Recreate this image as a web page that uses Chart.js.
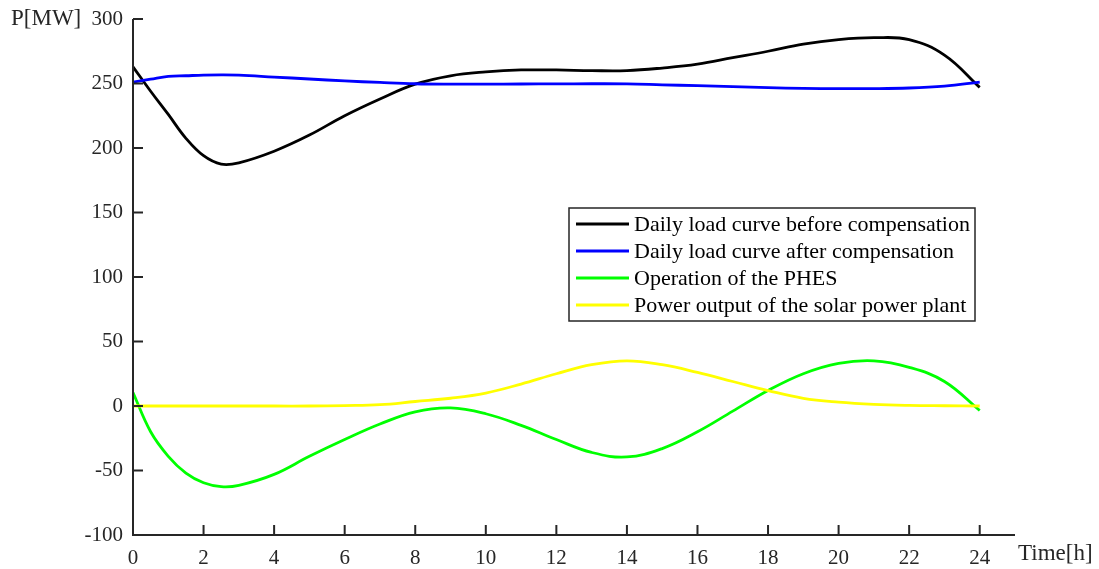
<!DOCTYPE html>
<html>
<head>
<meta charset="utf-8">
<script src="https://cdn.jsdelivr.net/npm/chart.js@4/dist/chart.umd.min.js"></script>
<style>
  html, body { margin: 0; padding: 0; background: #fff; }
  #wrap { width: 1099px; height: 569px; }
</style>
</head>
<body>
<div id="wrap"><canvas id="myChart" width="1099" height="569"></canvas></div>
<script>
// hours of the day
const hours = [0, 0.5, 1, 1.5, 2, 2.5, 3, 4, 5, 6, 7, 8, 9, 10, 11, 12, 13, 14, 15, 16, 17, 18, 19, 20, 21, 22, 23, 24];

// P[MW]
const loadBefore = [263, 244, 226, 207.5, 194, 187.5, 188.5, 197.5, 210, 225, 238, 249.5, 256, 259, 260.5, 260.5, 260, 260, 262, 265, 270, 275, 280.5, 284, 285.5, 284, 272, 247];
const loadAfter  = [251, 253.3, 255.5, 256, 256.5, 256.7, 256.5, 255, 253.5, 252, 250.8, 249.8, 249.5, 249.5, 249.6, 249.7, 249.8, 249.7, 249, 248.3, 247.5, 246.8, 246.2, 246, 246, 246.5, 248, 251];
const phes       = [10.5, -20, -39, -52, -59.5, -62.5, -61.5, -53, -39, -26, -14, -4.5, -1.5, -6, -15, -26, -36, -39.5, -33, -20, -4, 12, 25, 33, 35, 30, 19, -3.5];
const solar      = [0, 0, 0, 0, 0, 0, 0, 0, 0, 0.3, 1, 3.5, 6, 10, 17, 25, 32, 35, 32, 26, 19, 12, 6, 3, 1.3, 0.5, 0.2, 0];

const seriesNames  = ['Daily load curve before compensation', 'Daily load curve after compensation', 'Operation of the PHES', 'Power output of the solar power plant'];
const seriesColors = ['#000000', '#0000ff', '#00ff00', '#ffff00'];

const yTicks = [-100, -50, 0, 50, 100, 150, 200, 250, 300];
const xTicks = [0, 2, 4, 6, 8, 10, 12, 14, 16, 18, 20, 22, 24];

const axisColor = '#262626';
const serif = '"Liberation Serif", "Times New Roman", serif';

function pts(vals) {
  return hours.map((h, i) => ({ x: h, y: vals[i] }));
}

const allSeries = [loadBefore, loadAfter, phes, solar];
const datasets = allSeries.map((vals, i) => ({
  label: seriesNames[i],
  data: pts(vals),
  borderColor: seriesColors[i],
  backgroundColor: seriesColors[i],
  borderWidth: 2.8,
  pointRadius: 0,
  tension: 0.4,
  fill: false,
  order: 4 - i
}));

// axes with inward ticks, axis titles and a boxed legend inside the plot
const decor = {
  id: 'decor',
  afterDraw(chart) {
    const ctx = chart.ctx;
    const x = chart.scales.x, y = chart.scales.y;
    const a = chart.chartArea;
    ctx.save();
    ctx.strokeStyle = axisColor;
    ctx.lineWidth = 2;
    ctx.beginPath();
    ctx.moveTo(a.left, a.top);
    ctx.lineTo(a.left, a.bottom);
    ctx.lineTo(a.right, a.bottom);
    yTicks.forEach(v => {
      const p = y.getPixelForValue(v);
      ctx.moveTo(a.left, p);
      ctx.lineTo(a.left + 10, p);
    });
    xTicks.forEach(v => {
      const p = x.getPixelForValue(v);
      ctx.moveTo(p, a.bottom);
      ctx.lineTo(p, a.bottom - 10);
    });
    ctx.stroke();

    ctx.fillStyle = axisColor;
    ctx.font = '23px ' + serif;
    ctx.textBaseline = 'middle';
    ctx.textAlign = 'left';
    ctx.fillText('P[MW]', 11, 19);
    ctx.fillText('Time[h]', 1018, 554);

    // legend
    const lx = 569, ly = 208, lw = 406, lh = 113;
    ctx.fillStyle = '#ffffff';
    ctx.fillRect(lx, ly, lw, lh);
    ctx.lineWidth = 1.5;
    ctx.strokeStyle = axisColor;
    ctx.strokeRect(lx, ly, lw, lh);
    ctx.font = '22px ' + serif;
    chart.data.datasets.forEach((ds, i) => {
      const ry = ly + 16 + i * 27;
      ctx.strokeStyle = ds.borderColor;
      ctx.lineWidth = 2.8;
      ctx.beginPath();
      ctx.moveTo(lx + 7, ry);
      ctx.lineTo(lx + 60, ry);
      ctx.stroke();
      ctx.fillStyle = '#000000';
      ctx.fillText(ds.label, lx + 65, ry + 1);
    });
    ctx.restore();
  }
};

new Chart(document.getElementById('myChart').getContext('2d'), {
  type: 'line',
  data: { datasets: datasets },
  options: {
    responsive: false,
    animation: false,
    layout: { padding: { top: 19, right: 84, left: 0, bottom: 0 } },
    plugins: { legend: { display: false }, tooltip: { enabled: false } },
    scales: {
      x: {
        type: 'linear',
        min: 0,
        max: 25,
        grid: { display: false },
        border: { display: false },
        afterBuildTicks: s => { s.ticks = xTicks.map(v => ({ value: v })); },
        afterFit: s => { s.height = 34; },
        ticks: { color: axisColor, font: { family: serif, size: 21 }, padding: 3, maxRotation: 0, autoSkip: false }
      },
      y: {
        min: -100,
        max: 300,
        grid: { display: false },
        border: { display: false },
        afterBuildTicks: s => { s.ticks = yTicks.map(v => ({ value: v })); },
        afterFit: s => { s.width = 133; },
        ticks: { color: axisColor, font: { family: serif, size: 21 }, padding: 2 }
      }
    }
  },
  plugins: [decor]
});
</script>
</body>
</html>
